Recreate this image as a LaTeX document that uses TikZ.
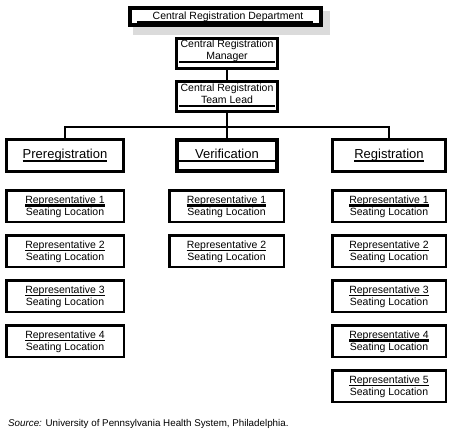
\documentclass[tikz,border=0pt]{standalone}
\usepackage{fontspec}
\setmainfont{Liberation Sans}
\tikzset{
  box/.style={draw, line width=3pt, inner sep=0pt},
  repbox/.style={draw, line width=2.5pt, inner sep=0pt, minimum height=31.5pt},
  txt/.style={inner sep=0pt, anchor=base, font=\fontsize{10.5}{12}\selectfont},
  big/.style={inner sep=0pt, anchor=base, font=\fontsize{13}{15}\selectfont},
  uline/.style={line width=1.3pt},
  thickuline/.style={line width=2.2pt},
  conn/.style={line width=2pt},
  busline/.style={line width=1.5pt},
  shadow/.style={fill=black!14, draw=none}
}
\newcommand\rep[6]{% name, cx, cy, number, width, underline style
  \node[repbox, minimum width=#5pt] (#1) at (#2,#3) {};
  \node[txt] (#1a) at (#2,#3-3) {Representative #4};
  \node[txt] (#1b) at (#2,#3+9.5) {Seating Location};
  \draw[#6] ([yshift=-2.5pt]#1a.base west) -- ([yshift=-2.5pt]#1a.base east);
}
\begin{document}
\begin{tikzpicture}[x=1pt,y=-1pt]
\useasboundingbox (0,0) rectangle (454,433);
% top
\fill[shadow] (133,11) rectangle (330,35);
\node[box, line width=4pt, fill=white, minimum width=191pt, minimum height=17pt] (top) at (225.5,16.5) {};
\node[txt] (topt) at (228,20) {Central Registration Department};
\draw[uline] ([xshift=9pt,yshift=-5.5pt]top.west) -- ([xshift=-10pt,yshift=-5.5pt]top.east);
% manager
\node[box, minimum width=101pt, minimum height=30pt] (mgr) at (227,53.5) {};
\node[txt] (mgra) at (227,48) {Central Registration};
\node[txt] (mgrb) at (227,60) {Manager};
\draw[uline] ([xshift=4pt,yshift=-8.5pt]mgr.west) -- ([xshift=-4pt,yshift=-8.5pt]mgr.east);
% team lead
\node[box, minimum width=101pt, minimum height=30pt] (lead) at (227,96.5) {};
\node[txt] (leada) at (227,91.5) {Central Registration};
\node[txt] (leadb) at (227,103.5) {Team Lead};
\draw[uline] ([xshift=4pt,yshift=-9.5pt]lead.west) -- ([xshift=-4pt,yshift=-9.5pt]lead.east);
% departments
\node[box, minimum width=117pt, minimum height=32pt] (pre) at (65,155.5) {};
\node[big] (pret) at (65,158.5) {Preregistration};
\draw[uline, line width=1.8pt] ([yshift=-2.5pt]pret.base west) -- ([yshift=-2.5pt]pret.base east);
\node[box, line width=4pt, minimum width=100pt, minimum height=31pt] (ver) at (227,155.5) {};
\node[big] (vert) at (227,158.5) {Verification};
\draw[uline, line width=2pt] ([xshift=2pt,yshift=-5pt]ver.west) -- ([xshift=-4pt,yshift=-5pt]ver.east);
\node[box, minimum width=113pt, minimum height=32pt] (reg) at (389,155.5) {};
\node[big] (regt) at (389,158.5) {Registration};
\draw[uline, line width=1.8pt] ([yshift=-2.5pt]regt.base west) -- ([yshift=-2.5pt]regt.base east);
% connectors
\coordinate (bus) at (227,127);
\draw[conn] (mgr.south) -- (lead.north);
\draw[conn] (lead.south) -- (ver.north);
\draw[busline] (pre.north) |- (bus) -| (reg.north);
% representatives
\rep{p1}{65}{206}{1}{117.5}{thickuline}
\rep{p2}{65}{251}{2}{117.5}{uline}
\rep{p3}{65}{296}{3}{117.5}{uline}
\rep{p4}{65}{341}{4}{117.5}{uline}
\rep{v1}{226.5}{206}{1}{114.5}{thickuline}
\rep{v2}{226.5}{251}{2}{114.5}{uline}
\rep{r1}{389}{206}{1}{113.5}{thickuline}
\rep{r2}{389}{251}{2}{113.5}{uline}
\rep{r3}{389}{296}{3}{113.5}{uline}
\rep{r4}{389}{341}{4}{113.5}{thickuline}
\rep{r5}{389}{386}{5}{113.5}{uline}
% source
\node[inner sep=0pt, anchor=base west, font=\fontsize{9.8}{12}\selectfont] (src) at (8,426) {\textit{Source:} University of Pennsylvania Health System, Philadelphia.};
\end{tikzpicture}
\end{document}
